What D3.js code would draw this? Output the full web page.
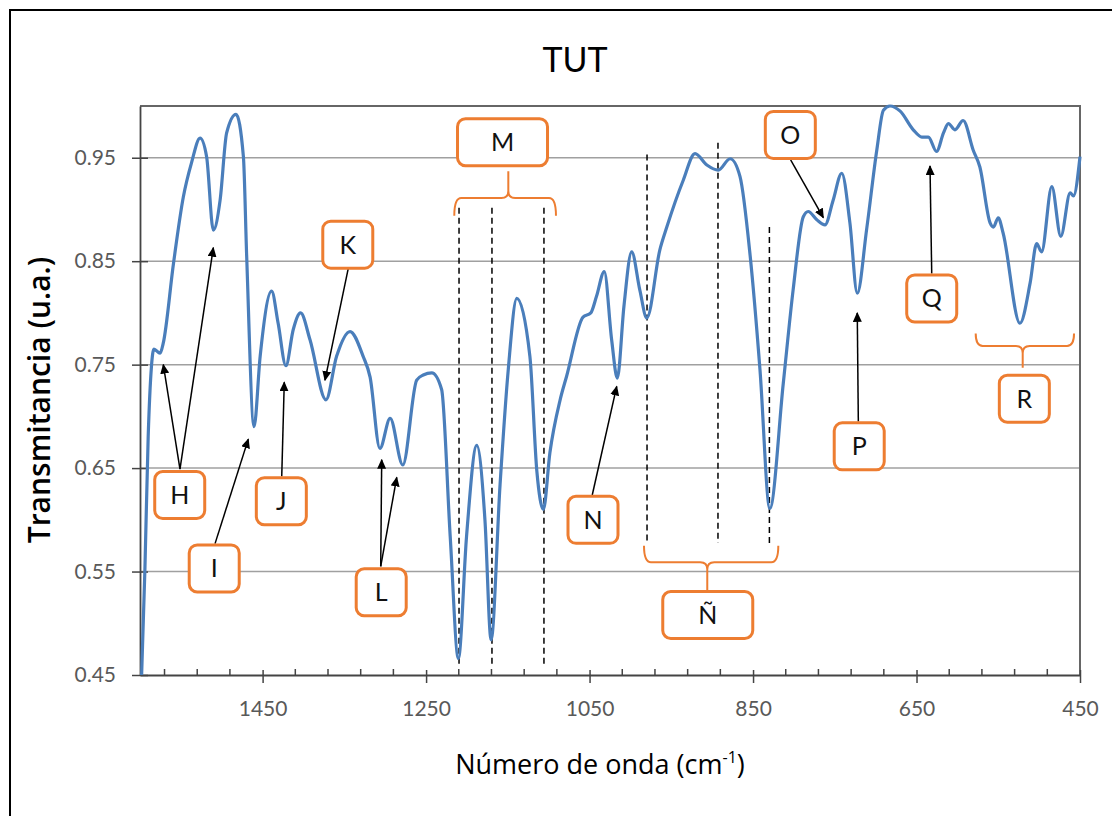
<!DOCTYPE html>
<html>
<head>
<meta charset="utf-8">
<title>TUT</title>
<script src="https://cdn.jsdelivr.net/npm/d3@7"></script>
<style>
  body { margin: 0; background: #fff; }
  text { font-family: Lato, "Open Sans", sans-serif; }
  .tick-label { fill: #595959; font-size: 21px; }
  .box-label { fill: #111; font-size: 25px; }
  .axis-title { font-family: "Open Sans", Lato, sans-serif; fill: #000; }
</style>
</head>
<body>
<script>
// espectro (numero de onda, transmitancia)
var wavenumber = [1598, 1594, 1590, 1586, 1583, 1575.5, 1571.5, 1559, 1547, 1537, 1526.5, 1518.5, 1510.3,
  1502, 1494, 1482.5, 1473.5, 1469.5, 1460.5, 1453, 1439, 1431, 1421.5, 1412.5, 1403.5, 1392, 1372.5,
  1359.5, 1343, 1327, 1318.5, 1306.5, 1294, 1278.5, 1261.5, 1253.5, 1243, 1231, 1220.5, 1210.5, 1200.5,
  1188, 1178, 1170.5, 1159.5, 1149.5, 1139, 1123, 1114.5, 1106.5, 1098.5, 1086, 1078, 1058, 1048.5,
  1041.5, 1032, 1023, 1016, 1008, 998.5, 988.5, 980, 964, 955.5, 935.5, 921, 906.5, 892.5, 878, 866,
  853.5, 841.5, 829.5, 813, 801, 788.5, 782.5, 772, 762, 752, 741.5, 731.5, 722.5, 711, 698.5, 690.5,
  682.5, 670, 654, 643.5, 635.5, 625.5, 617, 611, 603, 593, 580.5, 572.5, 560, 556, 550, 544, 523.5,
  511, 503, 497, 484.5, 473.5, 462, 458, 450];
var transmittance = [0.45, 0.552, 0.68, 0.748, 0.765, 0.761, 0.771, 0.848, 0.912, 0.945, 0.969, 0.951, 0.88,
  0.909, 0.974, 0.992, 0.951, 0.855, 0.69, 0.758, 0.821, 0.79, 0.749, 0.784, 0.8, 0.774, 0.716,
  0.758, 0.782, 0.758, 0.738, 0.669, 0.698, 0.653, 0.735, 0.74, 0.742, 0.726, 0.584, 0.466, 0.584,
  0.672, 0.6, 0.484, 0.634, 0.745, 0.814, 0.758, 0.647, 0.61, 0.665, 0.716, 0.739, 0.796, 0.8,
  0.816, 0.84, 0.774, 0.737, 0.806, 0.859, 0.822, 0.795, 0.861, 0.883, 0.928, 0.954, 0.943, 0.938, 0.949, 0.932,
  0.855, 0.745, 0.611, 0.732, 0.822, 0.893, 0.898, 0.89, 0.885, 0.909, 0.935, 0.887, 0.819, 0.881, 0.958, 0.996,
  1.0, 0.995, 0.977, 0.97, 0.97, 0.956, 0.974, 0.983, 0.977, 0.986, 0.957, 0.941, 0.887, 0.883, 0.892, 0.877, 0.79,
  0.829, 0.867, 0.859, 0.922, 0.874, 0.916, 0.913, 0.951];

var xMajorTicks = [1450, 1250, 1050, 850, 650, 450];
var yTicks = [0.45, 0.55, 0.65, 0.75, 0.85, 0.95];

// etiquetas: letra, numero de onda, transmitancia
var boxLabels = ["H", "I", "J", "K", "L", "M", "N", "Ñ", "O", "P", "Q", "R"];
var boxWn = [1551.4, 1509.2, 1427.1, 1345.8, 1304.9, 1156.5, 1045.8, 905.4, 804.4, 720.1, 631.4, 518.1];
var boxT = [0.624, 0.553, 0.618, 0.866, 0.530, 0.965, 0.600, 0.508, 0.972, 0.671, 0.814, 0.717];

// flechas: desde (wn, T) hasta (wn, T)
var arrowFrom = [[1551.1, 0.649], [1551.1, 0.649], [1508.2, 0.577], [1426.6, 0.642], [1345.2, 0.843],
  [1305.5, 0.555], [1305.5, 0.555], [1046.7, 0.624], [804.0, 0.948], [721.2, 0.695], [631.4, 0.838]];
var arrowTo = [[1571.5, 0.750], [1510.3, 0.863], [1467.5, 0.678], [1423.5, 0.733], [1373.7, 0.735],
  [1304.3, 0.658], [1285.9, 0.641], [1016.8, 0.729], [764.0, 0.892], [722.5, 0.800], [633.5, 0.942]];

// lineas punteadas: numero de onda, T arriba, T abajo
var dashWn = [1209.7, 1169.4, 1105.8, 979.7, 892.9, 830];
var dashTop = [0.9016, 0.9016, 0.9016, 0.953, 0.9645, 0.883];
var dashBottom = [0.4606, 0.4606, 0.4606, 0.5777, 0.5777, 0.5777];

// llaves: izquierda, derecha, centro, T extremos, T linea, T tallo
var braceLeft = [1215.5, 983.4, 577.6];
var braceRight = [1091.1, 819.1, 457.3];
var braceMid = [1149.4, 906.0, 520.1];
var braceEnd = [0.894, 0.575, 0.780];
var braceLine = [0.911, 0.559, 0.768];
var braceStem = [0.937, 0.532, 0.747];

var W = 1112, H = 816;
var plotLeft = 140, plotRight = 1080, plotTop = 106, plotBottom = 675;
var orange = "#ED7D31";

var svg = d3.select("body").append("svg")
  .attr("width", W)
  .attr("height", H);

svg.append("rect")
  .attr("x", 10).attr("y", 10)
  .attr("width", W + 20).attr("height", H + 20)
  .attr("fill", "#fff")
  .attr("stroke", "#000")
  .attr("stroke-width", 2);

var x = d3.scaleLinear().domain([1600, 450]).range([plotLeft, plotRight]);
var y = d3.scaleLinear().domain([0.45, 1.0]).range([plotBottom, plotTop]);

svg.append("defs").append("marker")
  .attr("id", "head")
  .attr("viewBox", "0 0 10 10")
  .attr("refX", 9).attr("refY", 5)
  .attr("markerWidth", 10).attr("markerHeight", 9)
  .attr("markerUnits", "userSpaceOnUse")
  .attr("orient", "auto")
  .attr("preserveAspectRatio", "none")
  .append("path")
  .attr("d", "M0,0 L10,5 L0,10 z")
  .attr("fill", "#000");

// cuadricula
svg.append("g")
  .selectAll("line")
  .data(yTicks.slice(1))
  .enter()
  .append("line")
  .attr("x1", plotLeft).attr("x2", plotRight)
  .attr("y1", function(d) { return y(d); })
  .attr("y2", function(d) { return y(d); })
  .attr("stroke", "#a0a0a0")
  .attr("stroke-width", 1.5);

// borde superior y derecho
svg.append("path")
  .attr("d", "M" + plotLeft + "," + plotTop + " L" + plotRight + "," + plotTop + " L" + plotRight + "," + plotBottom)
  .attr("fill", "none")
  .attr("stroke", "#666")
  .attr("stroke-width", 2);

// eje x
var minorTicks = d3.range(450, 1600, 40).filter(function(d) { return (d - 450) % 200 != 0; });
var xAxisG = svg.append("g").attr("transform", "translate(0," + plotBottom + ")");
xAxisG.call(d3.axisBottom(x).tickValues(xMajorTicks).tickFormat(d3.format("d")).tickSizeInner(8).tickSizeOuter(0).tickPadding(18));
xAxisG.select(".domain").attr("stroke", "#444").attr("stroke-width", 1.8);
xAxisG.selectAll(".tick line").attr("y1", -5).attr("stroke", "#444").attr("stroke-width", 1.5);
xAxisG.selectAll(".tick text").attr("class", "tick-label").attr("font-family", null).attr("font-size", null);
xAxisG.selectAll(".minor")
  .data(minorTicks)
  .enter()
  .append("line")
  .attr("class", "minor")
  .attr("x1", function(d) { return x(d); })
  .attr("x2", function(d) { return x(d); })
  .attr("y1", -6).attr("y2", 0)
  .attr("stroke", "#444")
  .attr("stroke-width", 1.5);

// eje y
var yAxisG = svg.append("g").attr("transform", "translate(" + plotLeft + ",0)");
yAxisG.call(d3.axisLeft(y).tickValues(yTicks).tickFormat(d3.format(".2f")).tickSizeInner(8).tickSizeOuter(0).tickPadding(16));
yAxisG.select(".domain").attr("stroke", "#444").attr("stroke-width", 1.8);
yAxisG.selectAll(".tick line").attr("x1", 8).attr("x2", -8).attr("stroke", "#444").attr("stroke-width", 1.5);
yAxisG.selectAll(".tick text").attr("class", "tick-label").attr("font-family", null).attr("font-size", null);

// lineas punteadas
svg.append("g")
  .selectAll("line")
  .data(dashWn)
  .enter()
  .append("line")
  .attr("x1", function(d) { return x(d); })
  .attr("x2", function(d) { return x(d); })
  .attr("y1", function(d, i) { return y(dashTop[i]); })
  .attr("y2", function(d, i) { return y(dashBottom[i]); })
  .attr("stroke", "#000")
  .attr("stroke-width", 1.5)
  .attr("stroke-dasharray", "6,4");

// espectro
var spectrum = wavenumber.map(function(d, i) { return [d, transmittance[i]]; });
var line = d3.line()
  .x(function(d) { return x(d[0]); })
  .y(function(d) { return y(d[1]); })
  .curve(d3.curveMonotoneX);

svg.append("path")
  .datum(spectrum)
  .attr("d", line)
  .attr("fill", "none")
  .attr("stroke", "#4A7EBB")
  .attr("stroke-width", 3.2)
  .attr("stroke-linejoin", "round");

// llaves
function bracePath(i) {
  var x1 = x(braceLeft[i]), x2 = x(braceRight[i]), xm = x(braceMid[i]);
  var yE = y(braceEnd[i]), yL = y(braceLine[i]), yS = y(braceStem[i]);
  var r = 7, s = yS < yL ? -1 : 1;
  return "M" + x1 + "," + yE +
    " Q" + x1 + "," + yL + " " + (x1 + r) + "," + yL +
    " L" + (xm - r) + "," + yL +
    " Q" + xm + "," + yL + " " + xm + "," + (yL + s * r) +
    " L" + xm + "," + yS +
    " M" + xm + "," + (yL + s * r) +
    " Q" + xm + "," + yL + " " + (xm + r) + "," + yL +
    " L" + (x2 - r) + "," + yL +
    " Q" + x2 + "," + yL + " " + x2 + "," + yE;
}
svg.append("g")
  .selectAll("path")
  .data(braceLeft)
  .enter()
  .append("path")
  .attr("d", function(d, i) { return bracePath(i); })
  .attr("fill", "none")
  .attr("stroke", orange)
  .attr("stroke-width", 2);

// flechas
svg.append("g")
  .selectAll("line")
  .data(arrowFrom)
  .enter()
  .append("line")
  .attr("x1", function(d) { return x(d[0]); })
  .attr("y1", function(d) { return y(d[1]); })
  .attr("x2", function(d, i) { return x(arrowTo[i][0]); })
  .attr("y2", function(d, i) { return y(arrowTo[i][1]); })
  .attr("stroke", "#000")
  .attr("stroke-width", 1.5)
  .attr("marker-end", "url(#head)");

// cajas
var boxes = svg.append("g")
  .selectAll("g")
  .data(boxLabels)
  .enter()
  .append("g")
  .attr("transform", function(d, i) { return "translate(" + x(boxWn[i]) + "," + y(boxT[i]) + ")"; });

boxes.append("rect")
  .attr("x", function(d) { return (d == "M" || d == "Ñ") ? -45 : -25; })
  .attr("width", function(d) { return (d == "M" || d == "Ñ") ? 90 : 50; })
  .attr("y", -23.5)
  .attr("height", 47)
  .attr("rx", 8)
  .attr("fill", "#fff")
  .attr("stroke", orange)
  .attr("stroke-width", 3);

boxes.append("text")
  .attr("class", "box-label")
  .attr("text-anchor", "middle")
  .attr("dy", "0.36em")
  .text(function(d) { return d; });

// titulos
svg.append("text")
  .attr("x", 575).attr("y", 72)
  .attr("text-anchor", "middle")
  .attr("font-size", 34)
  .attr("fill", "#000")
  .text("TUT");

var xTitle = svg.append("text")
  .attr("class", "axis-title")
  .attr("x", 600).attr("y", 774)
  .attr("text-anchor", "middle")
  .attr("font-size", 27);
xTitle.append("tspan").text("Número de onda (cm");
xTitle.append("tspan").attr("font-size", 16).attr("dy", -11).text("-1");
xTitle.append("tspan").attr("dy", 11).text(")");

svg.append("text")
  .attr("class", "axis-title")
  .attr("transform", "translate(50,400) rotate(-90)")
  .attr("text-anchor", "middle")
  .attr("font-size", 30)
  .attr("font-weight", 600)
  .text("Transmitancia (u.a.)");
</script>
</body>
</html>
